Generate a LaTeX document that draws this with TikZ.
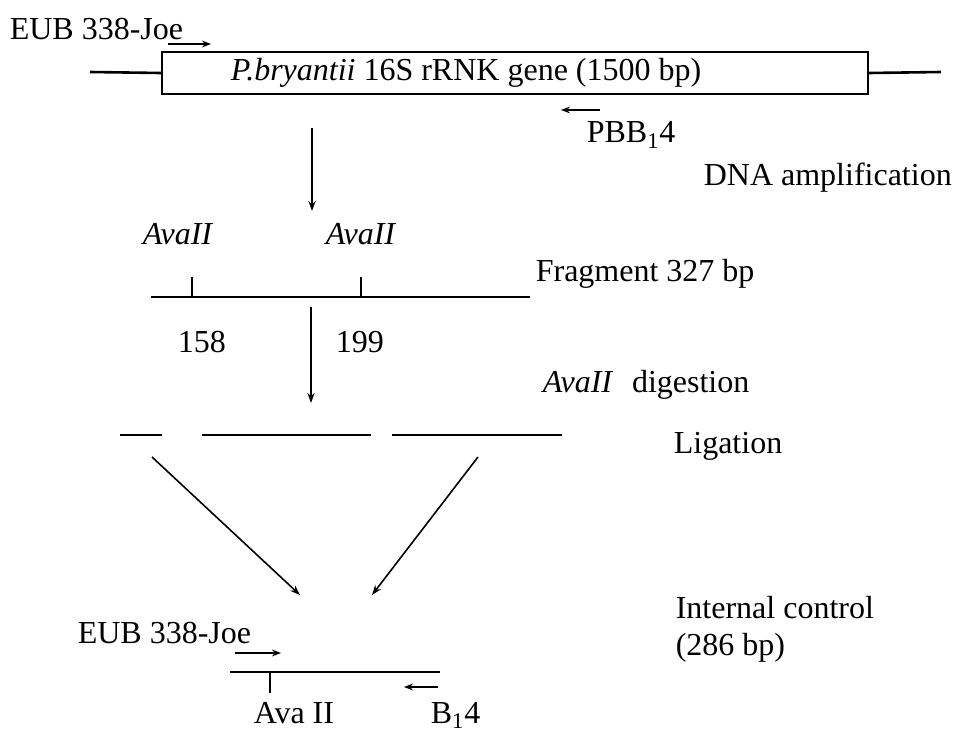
\documentclass[tikz,border=0pt]{standalone}
\usepackage{fontspec}
\setmainfont{Liberation Serif}
\usetikzlibrary{arrows.meta}

\begin{document}
\begin{tikzpicture}[x=0.5pt,y=-0.5pt,line width=0.8pt,>={Stealth[length=5pt,width=3.6pt]},
  font=\fontsize{16}{19}\selectfont]
\tikzset{dna/.style={line width=1.3pt},
  genebox/.style={draw,line width=1.1pt,inner sep=0pt,minimum width=353pt,minimum height=21pt},
  primer/.style={line width=0.9pt,->,>={Stealth[length=4.5pt,width=3.4pt]}},
  lbl/.style={anchor=base west,inner sep=0pt}}
\useasboundingbox (0,0) rectangle (971,733);
% ---------- gene with primers ----------
\node[genebox] (gene) at (515,73) {};
\node[lbl] (genelbl) at (230,81) {\textit{P.bryantii} 16S rRNK gene (1500 bp)};
\coordinate (flankL) at (90,72);
\coordinate (flankR) at (941,72);
\draw[dna] (flankL) -- (gene.west);
\draw[dna] (gene.east) -- (flankR);
\node[lbl] (eubtop) at (9,40) {EUB 338-Joe};
\coordinate (fwdA) at (168,44);
\coordinate (fwdB) at (211,44);
\draw[primer] (fwdA) -- (fwdB);
\coordinate (revA) at (600,110);
\coordinate (revB) at (561,110);
\draw[primer] (revA) -- (revB);
\node[lbl] (pbb) at (586,143) {PBB\textsubscript{1}4};
\node[lbl] (amp) at (703,186) {DNA amplification};
\coordinate (amptop) at (312,128);
\coordinate (ampend) at (312,211);
\draw[->] (amptop) -- (ampend);
% ---------- 327 bp fragment ----------
\coordinate (fragL) at (151,297);
\coordinate (fragR) at (530,297);
\draw[dna] (fragL) -- (fragR);
\coordinate (cutA) at (192,277);
\coordinate (cutB) at (361,277);
\draw[dna] (cutA) -- (cutA |- fragL);
\draw[dna] (cutB) -- (cutB |- fragL);
\node[lbl] (avaA) at (142,245) {\textit{AvaII}};
\node[lbl] (avaB) at (325,245) {\textit{AvaII}};
\node[lbl] (posA) at (177,352) {158};
\node[lbl] (posB) at (335,352) {199};
\node[lbl] (frag) at (535,282) {Fragment 327 bp};
\coordinate (digtop) at (311,307);
\coordinate (digend) at (311,403);
\draw[->] (digtop) -- (digend);
\node[lbl] (dig) at (542,393) {\textit{AvaII}\,\, digestion};
% ---------- pieces and ligation ----------
\coordinate (pc1L) at (120,435);
\coordinate (pc1R) at (162,435);
\coordinate (pc2L) at (202,435);
\coordinate (pc2R) at (371,435);
\coordinate (pc3L) at (392,435);
\coordinate (pc3R) at (562,435);
\draw[dna] (pc1L) -- (pc1R);
\draw[dna] (pc2L) -- (pc2R);
\draw[dna] (pc3L) -- (pc3R);
\node[lbl] (lig) at (673,453) {Ligation};
\coordinate (ligA) at (152,457);
\coordinate (ligB) at (478,457);
\coordinate (joinA) at (300,595);
\coordinate (joinB) at (372,595);
\draw[->] (ligA) -- (joinA);
\draw[->] (ligB) -- (joinB);
% ---------- internal control ----------
\node[lbl] (ctrl) at (675,618) {Internal control};
\node[lbl] (ctrlbp) at (675,655) {(286 bp)};
\node[lbl] (eubbot) at (77,643) {EUB 338-Joe};
\coordinate (icL) at (230,672);
\coordinate (icR) at (440,672);
\draw[dna] (icL) -- (icR);
\coordinate (icCut) at (270,693);
\draw[dna] (icCut) -- (icCut |- icL);
\coordinate (icfA) at (235,653);
\coordinate (icfB) at (281,653);
\draw[primer] (icfA) -- (icfB);
\coordinate (icrA) at (438,687);
\coordinate (icrB) at (404,687);
\draw[primer] (icrA) -- (icrB);
\node[lbl] (avaC) at (253,723) {Ava II};
\node[lbl] (brev) at (430,723) {B\textsubscript{1}4};
\end{tikzpicture}
\end{document}
